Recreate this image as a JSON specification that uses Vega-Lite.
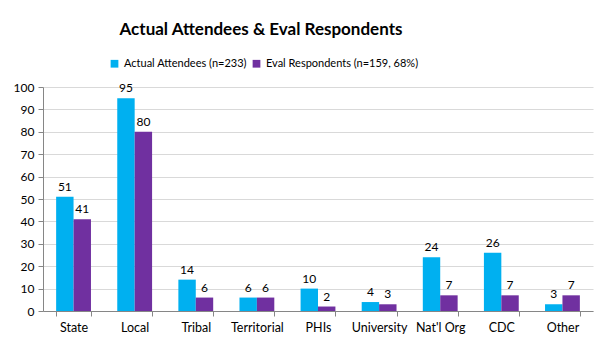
{
  "$schema": "https://vega.github.io/schema/vega-lite/v6.json",
  "width": 550,
  "height": 224,
  "autosize": {"type": "none"},
  "padding": {"left": 43, "top": 87, "right": 12, "bottom": 29},
  "background": "white",
  "title": {
    "text": "Actual Attendees & Eval Respondents",
    "fontSize": 17,
    "font": "Lato",
    "fontWeight": "bold",
    "color": "#000000",
    "anchor": "middle",
    "dx": -57,
    "offset": 19
  },
  "data": {
    "values": [
      {"cat": "State", "series": "Actual Attendees (n=233)", "v": 51},
      {"cat": "State", "series": "Eval Respondents (n=159, 68%)", "v": 41},
      {"cat": "Local", "series": "Actual Attendees (n=233)", "v": 95},
      {"cat": "Local", "series": "Eval Respondents (n=159, 68%)", "v": 80},
      {"cat": "Tribal", "series": "Actual Attendees (n=233)", "v": 14},
      {"cat": "Tribal", "series": "Eval Respondents (n=159, 68%)", "v": 6},
      {"cat": "Territorial", "series": "Actual Attendees (n=233)", "v": 6},
      {"cat": "Territorial", "series": "Eval Respondents (n=159, 68%)", "v": 6},
      {"cat": "PHIs", "series": "Actual Attendees (n=233)", "v": 10},
      {"cat": "PHIs", "series": "Eval Respondents (n=159, 68%)", "v": 2},
      {"cat": "University", "series": "Actual Attendees (n=233)", "v": 4},
      {"cat": "University", "series": "Eval Respondents (n=159, 68%)", "v": 3},
      {"cat": "Nat'l Org", "series": "Actual Attendees (n=233)", "v": 24},
      {"cat": "Nat'l Org", "series": "Eval Respondents (n=159, 68%)", "v": 7},
      {"cat": "CDC", "series": "Actual Attendees (n=233)", "v": 26},
      {"cat": "CDC", "series": "Eval Respondents (n=159, 68%)", "v": 7},
      {"cat": "Other", "series": "Actual Attendees (n=233)", "v": 3},
      {"cat": "Other", "series": "Eval Respondents (n=159, 68%)", "v": 7}
    ]
  },
  "encoding": {
    "x": {
      "field": "cat",
      "type": "nominal",
      "sort": null,
      "scale": {"paddingInner": 0.43, "paddingOuter": 0.215},
      "axis": {
        "title": null,
        "labelAngle": 0,
        "labelFont": "Lato",
        "labelFontSize": 12.5,
        "labelColor": "#000000",
        "labelPadding": 5,
        "domainColor": "#868686",
        "tickColor": "#868686",
        "tickSize": 5,
        "tickBand": "extent",
        "grid": false
      }
    },
    "xOffset": {"field": "series", "type": "nominal", "scale": {"paddingInner": 0, "paddingOuter": 0}},
    "y": {
      "field": "v",
      "type": "quantitative",
      "scale": {"domain": [0, 100], "nice": false},
      "axis": {
        "title": null,
        "values": [0, 10, 20, 30, 40, 50, 60, 70, 80, 90, 100],
        "labelFont": "Lato",
        "labelFontSize": 12,
        "labelColor": "#000000",
        "labelPadding": 4,
        "domainColor": "#868686",
        "tickColor": "#868686",
        "tickSize": 5,
        "gridColor": "#d9d9d9",
        "gridWidth": 1
      }
    }
  },
  "layer": [
    {
      "mark": {"type": "bar"},
      "encoding": {
        "color": {
          "field": "series",
          "type": "nominal",
          "scale": {"range": ["#00B0F0", "#7030A0"]},
          "legend": {
            "title": null,
            "orient": "none",
            "legendX": 66,
            "legendY": -29,
            "direction": "horizontal",
            "symbolType": "square",
            "symbolSize": 60,
            "symbolStrokeWidth": 0,
            "labelFont": "Lato",
            "labelFontSize": 11,
            "labelColor": "#000000",
            "columnPadding": 4,
            "labelOffset": 4
          }
        }
      }
    },
    {
      "mark": {"type": "text", "baseline": "bottom", "dy": -3, "font": "Lato", "fontSize": 12, "color": "#000000"},
      "encoding": {"text": {"field": "v", "type": "quantitative"}}
    }
  ],
  "config": {"view": {"stroke": null}}
}
